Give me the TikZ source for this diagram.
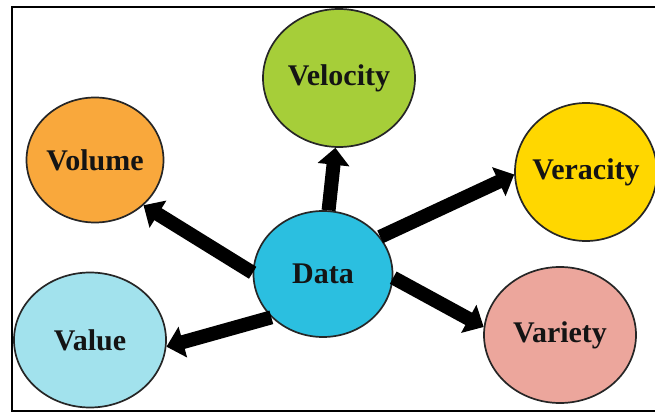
\documentclass[tikz,border=0pt]{standalone}
\usepackage{fontspec}
\setmainfont{Liberation Serif}
\usetikzlibrary{shapes.geometric,arrows.meta}
\definecolor{cvel}{RGB}{166,206,57}
\definecolor{cvol}{RGB}{249,168,60}
\definecolor{cver}{RGB}{255,215,0}
\definecolor{cdata}{RGB}{43,191,224}
\definecolor{cval}{RGB}{162,226,237}
\definecolor{cvar}{RGB}{236,166,156}
\definecolor{ctext}{RGB}{20,20,20}
\newcommand{\bubbletext}[1]{\makebox[0pt]{#1}}
\begin{document}
\begin{tikzpicture}[x=1pt,y=-1pt,
  vbubble/.style={ellipse,draw=black!85,line width=1.7pt,inner sep=0pt,
    font=\fontsize{30}{32}\selectfont\bfseries,text=ctext},
  bigarrow/.style={line width=14pt,-{Triangle[length=17pt,width=31pt]}}]
\useasboundingbox (0,0) rectangle (655,414);
\draw[line width=1.8pt] (670,7) -- (12,7) -- (12,411) -- (670,411);
\node[vbubble,fill=cvel,minimum width=152pt,minimum height=138pt] (velocity) at (339,78) {\bubbletext{Velocity}};
\node[vbubble,fill=cvol,minimum width=137pt,minimum height=125pt] (volume) at (95,160) {\bubbletext{Volume}};
\node[vbubble,fill=cver,minimum width=142pt,minimum height=138pt] (veracity) at (586,172) {\bubbletext{Veracity}};
\node[vbubble,fill=cdata,minimum width=139pt,minimum height=126pt] (data) at (323,274) {\bubbletext{Data}};
\node[vbubble,fill=cval,minimum width=152pt,minimum height=135pt] (value) at (90,340) {\bubbletext{Value}};
\node[vbubble,fill=cvar,minimum width=152pt,minimum height=136pt] (variety) at (560,335) {\bubbletext{Variety}};
\draw[bigarrow] (data.85.5) -- (velocity.267.5);
\draw[bigarrow] (data.179) -- (volume.317);
\draw[bigarrow] (data.33) -- (veracity.182);
\draw[bigarrow] (data.357.5) -- (variety.174.6);
\draw[bigarrow] (data.220.7) -- (value.355);
\end{tikzpicture}
\end{document}
